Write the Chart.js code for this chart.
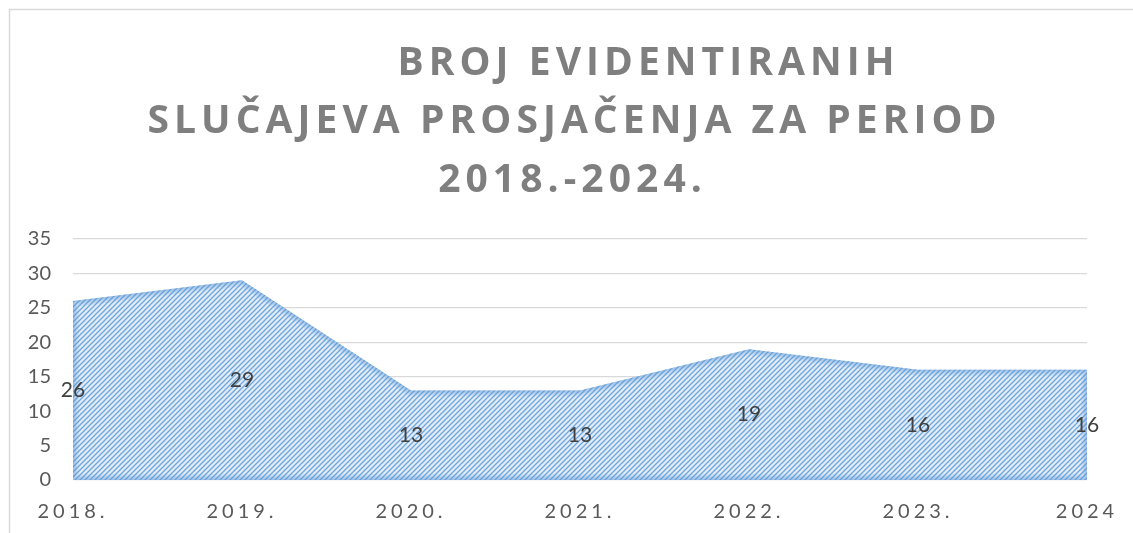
<!DOCTYPE html>
<html>
<head>
<meta charset="utf-8">
<script src="https://cdn.jsdelivr.net/npm/chart.js@4/dist/chart.umd.min.js"></script>
<style>
  html, body { margin: 0; padding: 0; background: #ffffff; }
  #wrap { width: 1133px; height: 533px; position: relative; }
</style>
</head>
<body>
<div id="wrap"><canvas id="c" width="1133" height="533"></canvas></div>
<script>
// ---- data ----
const categories = ['2018.', '2019.', '2020.', '2021.', '2022.', '2023.', '2024'];
const values = [26, 29, 13, 13, 19, 16, 16];
const yTicks = [0, 5, 10, 15, 20, 25, 30, 35];
const titleLines = ['BROJ EVIDENTIRANIH', 'SLUČAJEVA PROSJAČENJA ZA PERIOD', '2018.-2024.'];

// ---- styles ----
const TITLE_FONT = 'bold 39px "Open Sans", Lato, sans-serif';
const TITLE_COLOR = '#7f7f7f';
const TICK_COLOR = '#595959';
const LABEL_COLOR = '#404040';
const GRID_COLOR = '#d9d9d9';
const TEXT_FAMILY = 'Lato, "Open Sans", sans-serif';

function makePattern() {
  const s = 5;
  const c = document.createElement('canvas');
  c.width = s; c.height = s;
  const g = c.getContext('2d');
  g.fillStyle = '#e1ecf8';
  g.fillRect(0, 0, s, s);
  g.strokeStyle = '#6fa6dc';
  g.lineWidth = 1.3;
  g.beginPath();
  g.moveTo(-1, s + 1); g.lineTo(s + 1, -1);
  g.moveTo(-1, 1); g.lineTo(1, -1);
  g.moveTo(s - 1, s + 1); g.lineTo(s + 1, s - 1);
  g.stroke();
  return g.createPattern(c, 'repeat');
}

const framePlugin = {
  id: 'frame',
  beforeDraw(chart) {
    const ctx = chart.ctx;
    ctx.save();
    ctx.fillStyle = '#ffffff';
    ctx.fillRect(0, 0, chart.width, chart.height);
    ctx.strokeStyle = GRID_COLOR;
    ctx.lineWidth = 1.5;
    ctx.beginPath();
    ctx.moveTo(9.5, chart.height + 2);
    ctx.lineTo(9.5, 9.5);
    ctx.lineTo(chart.width + 2, 9.5);
    ctx.stroke();
    ctx.restore();
    const sx = chart.scales.x;
    if (sx && !sx._lsWrapped) {
      const orig = sx.drawLabels.bind(sx);
      sx.drawLabels = function (area) {
        const c = this.ctx;
        c.save();
        c.letterSpacing = '4px';
        orig(area);
        c.restore();
      };
      sx._lsWrapped = true;
    }
  }
};

const titlePlugin = {
  id: 'customTitle',
  afterDraw(chart) {
    const ctx = chart.ctx;
    ctx.save();
    ctx.font = TITLE_FONT;
    ctx.fillStyle = TITLE_COLOR;
    ctx.textAlign = 'left';
    ctx.textBaseline = 'alphabetic';
    ctx.letterSpacing = '0px';
    const w0 = ctx.measureText(titleLines[1]).width;
    const n = titleLines[1].length;
    const ls = Math.max(0, (849 - w0) / (n - 1));
    ctx.letterSpacing = ls + 'px';
    const centers = [646, 572, 570];
    const baselines = [75, 133, 192];
    titleLines.forEach((t, i) => {
      const w = ctx.measureText(t).width - ls;
      ctx.fillText(t, centers[i] - w / 2, baselines[i]);
    });
    ctx.restore();
  }
};

const glowPlugin = {
  id: 'glow',
  afterDatasetsDraw(chart) {
    const meta = chart.getDatasetMeta(0);
    const ys = chart.scales.y;
    const ctx = chart.ctx;
    const pts = meta.data;
    const y0 = ys.getPixelForValue(0);
    ctx.save();
    ctx.beginPath();
    ctx.moveTo(pts[0].x, y0);
    pts.forEach(p => ctx.lineTo(p.x, p.y));
    ctx.lineTo(pts[pts.length - 1].x, y0);
    ctx.closePath();
    ctx.clip();
    ctx.lineJoin = 'round';
    [12, 8, 5, 2.5].forEach(w => {
      ctx.lineWidth = w;
      ctx.strokeStyle = 'rgba(91,155,213,0.15)';
      ctx.stroke();
    });
    ctx.restore();
  }
};

const labelPlugin = {
  id: 'valueLabels',
  afterDatasetsDraw(chart) {
    const ctx = chart.ctx;
    const xs = chart.scales.x, ys = chart.scales.y;
    ctx.save();
    ctx.font = '21px ' + TEXT_FAMILY;
    ctx.fillStyle = LABEL_COLOR;
    ctx.textAlign = 'center';
    ctx.textBaseline = 'middle';
    values.forEach((v, i) => {
      ctx.fillText(String(v), xs.getPixelForValue(i), ys.getPixelForValue(v / 2));
    });
    ctx.restore();
  }
};

const ctx = document.getElementById('c').getContext('2d');
new Chart(ctx, {
  type: 'line',
  data: {
    labels: categories,
    datasets: [{
      data: values,
      fill: 'origin',
      backgroundColor: makePattern(),
      borderColor: 'rgba(0,0,0,0)',
      borderWidth: 0,
      pointRadius: 0,
      tension: 0
    }]
  },
  options: {
    responsive: false,
    animation: false,
    events: [],
    layout: { padding: { top: 239, right: 46, bottom: 0, left: 0 } },
    plugins: { legend: { display: false }, title: { display: false }, tooltip: { enabled: false } },
    scales: {
      x: {
        type: 'category',
        offset: false,
        grid: { display: false, drawTicks: false },
        border: { display: false },
        ticks: {
          color: TICK_COLOR,
          font: { family: TEXT_FAMILY, size: 20 },
          padding: 20,
          maxRotation: 0,
          autoSkip: false
        },
        afterFit(s) { s.height = 53; }
      },
      y: {
        min: 0,
        max: 35,
        afterBuildTicks(s) { s.ticks = yTicks.map(v => ({ value: v })); },
        grid: { color: GRID_COLOR, lineWidth: 1.3, drawTicks: false },
        border: { display: false },
        ticks: {
          color: TICK_COLOR,
          font: { family: TEXT_FAMILY, size: 20 },
          padding: 22
        },
        afterFit(s) { s.width = 73; }
      }
    }
  },
  plugins: [framePlugin, glowPlugin, labelPlugin, titlePlugin]
});
</script>
</body>
</html>
